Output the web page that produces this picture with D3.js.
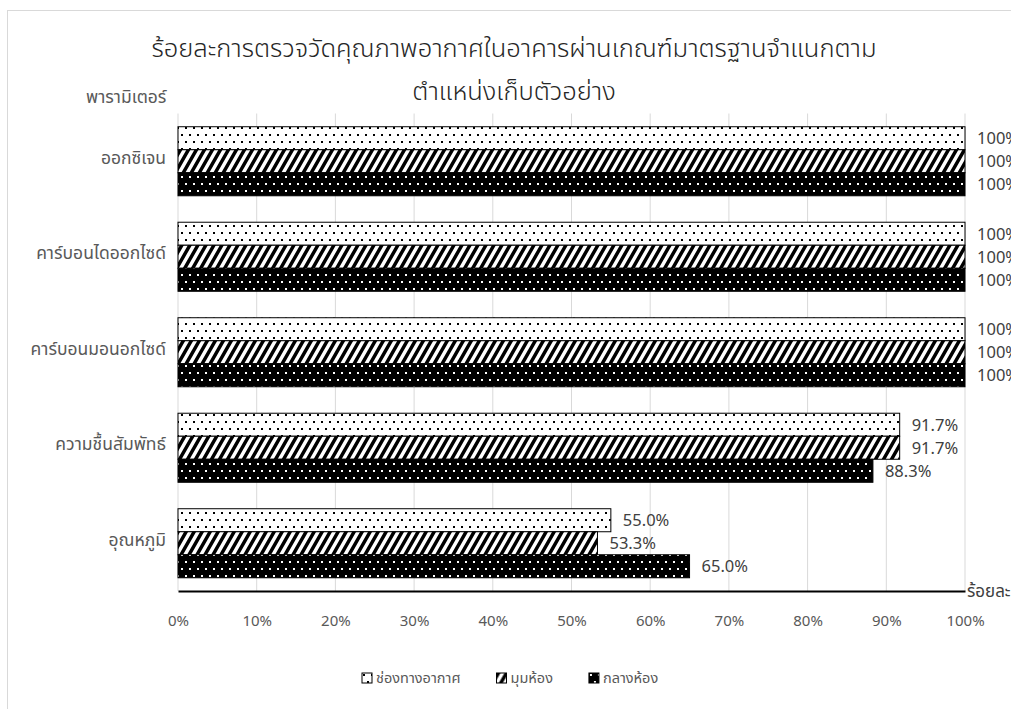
<!DOCTYPE html>
<html>
<head>
<meta charset="utf-8">
<script src="https://cdn.jsdelivr.net/npm/d3@7"></script>
<style>
  body { margin: 0; background: #fff; }
  svg text { font-family: "Noto Sans Thai", "Noto Sans Thai Looped", "Noto Sans", "DejaVu Sans", sans-serif; }
</style>
</head>
<body>
<div id="chart"></div>
<script>
// chart data
var categories = ['ออกซิเจน', 'คาร์บอนไดออกไซด์', 'คาร์บอนมอนอกไซด์', 'ความชื้นสัมพัทธ์', 'อุณหภูมิ'];
var seriesNames = ['ช่องทางอากาศ', 'มุมห้อง', 'กลางห้อง'];
var airDuct = [100, 100, 100, 91.7, 55.0];
var roomCorner = [100, 100, 100, 91.7, 53.3];
var roomCenter = [100, 100, 100, 88.3, 65.0];
var xTicks = [0, 10, 20, 30, 40, 50, 60, 70, 80, 90, 100];
var titleLines = ['ร้อยละการตรวจวัดคุณภาพอากาศในอาคารผ่านเกณฑ์มาตรฐานจำแนกตาม', 'ตำแหน่งเก็บตัวอย่าง'];

var seriesValues = [airDuct, roomCorner, roomCenter];
var patternIds = ['pDots', 'pStripes', 'pBlackDots'];

var width = 1011, height = 709;
var margin = {top: 113.5, left: 178, right: 1011 - 965, bottom: 709 - 591};

var svg = d3.select('#chart').append('svg')
    .attr('width', width)
    .attr('height', height);

// patterns
var defs = svg.append('defs');

var p1 = defs.append('pattern').attr('id', 'pDots')
    .attr('patternUnits', 'userSpaceOnUse')
    .attr('width', 8).attr('height', 14);
p1.append('rect').attr('width', 8).attr('height', 14).attr('fill', '#fff');
p1.append('rect').attr('x', 1).attr('y', 1).attr('width', 2).attr('height', 2).attr('fill', '#000');
p1.append('rect').attr('x', 5).attr('y', 8).attr('width', 2).attr('height', 2).attr('fill', '#000');

var p2 = defs.append('pattern').attr('id', 'pStripes')
    .attr('patternUnits', 'userSpaceOnUse')
    .attr('width', 8).attr('height', 14);
p2.append('rect').attr('width', 8).attr('height', 14).attr('fill', '#fff');
p2.append('path').attr('fill', '#000')
    .attr('d', 'M0,14 L4,14 L8,7 L8,0 Z M0,7 L4,0 L0,0 Z');

var p3 = defs.append('pattern').attr('id', 'pBlackDots')
    .attr('patternUnits', 'userSpaceOnUse')
    .attr('width', 8).attr('height', 14);
p3.append('rect').attr('width', 8).attr('height', 14).attr('fill', '#000');
p3.append('rect').attr('x', 1).attr('y', 1).attr('width', 2).attr('height', 2).attr('fill', '#fff');
p3.append('rect').attr('x', 5).attr('y', 8).attr('width', 2).attr('height', 2).attr('fill', '#fff');

// chart frame
svg.append('rect')
    .attr('x', 7.5).attr('y', 10.5)
    .attr('width', width).attr('height', height)
    .attr('fill', 'none').attr('stroke', '#d9d9d9');

// title
svg.selectAll('.title')
    .data(titleLines)
  .enter().append('text')
    .attr('class', 'title')
    .attr('x', 514)
    .attr('y', function(d, i) { return 57 + i * 43; })
    .attr('text-anchor', 'middle')
    .attr('fill', '#262626')
    .style('font-size', '25.5px')
    .style('font-weight', 300)
    .text(function(d) { return d; });

var x = d3.scaleLinear()
    .domain([0, 100])
    .range([margin.left, width - margin.right]);

var y = d3.scaleBand()
    .domain(categories)
    .range([margin.top, height - margin.bottom])
    .paddingInner(0.277)
    .paddingOuter(0.1385);

var ySub = d3.scaleBand()
    .domain(d3.range(seriesNames.length))
    .range([0, y.bandwidth()]);

// gridlines
svg.append('g')
    .selectAll('line')
    .data(xTicks)
  .enter().append('line')
    .attr('x1', function(d) { return x(d); })
    .attr('x2', function(d) { return x(d); })
    .attr('y1', margin.top)
    .attr('y2', height - margin.bottom)
    .attr('stroke', '#d9d9d9')
    .attr('stroke-width', 1);

// bars
var groups = svg.append('g').selectAll('g')
    .data(seriesNames)
  .enter().append('g');

groups.each(function(name, si) {
  d3.select(this).selectAll('rect')
      .data(seriesValues[si])
    .enter().append('rect')
      .attr('x', x(0))
      .attr('y', function(d, ci) { return y(categories[ci]) + ySub(si); })
      .attr('width', function(d) { return x(d) - x(0); })
      .attr('height', ySub.bandwidth())
      .attr('fill', 'url(#' + patternIds[si] + ')')
      .attr('stroke', '#000')
      .attr('stroke-width', 1);

  d3.select(this).selectAll('text')
      .data(seriesValues[si])
    .enter().append('text')
      .attr('x', function(d) { return x(d) + 12; })
      .attr('y', function(d, ci) { return y(categories[ci]) + ySub(si) + ySub.bandwidth() / 2; })
      .attr('dy', '0.35em')
      .attr('fill', '#404040')
      .style('font-size', '16.5px')
      .text(function(d) { return d === 100 ? '100%' : d.toFixed(1) + '%'; });
});

// x axis
var xAxis = d3.axisBottom(x)
    .tickValues(xTicks)
    .tickSize(0)
    .tickPadding(24)
    .tickFormat(function(d) { return d + '%'; });

var gx = svg.append('g')
    .attr('transform', 'translate(0,' + (height - margin.bottom) + ')')
    .call(xAxis);
gx.select('.domain').attr('stroke', '#000').attr('stroke-width', 2);
gx.selectAll('text')
    .attr('fill', '#595959')
    .style('font-size', '15px');

// y axis labels
var yAxis = d3.axisLeft(y).tickSize(0).tickPadding(12);
var gy = svg.append('g')
    .attr('transform', 'translate(' + margin.left + ',-3)')
    .call(yAxis);
gy.select('.domain').remove();
gy.selectAll('text')
    .attr('fill', '#595959')
    .style('font-size', '17.5px');

// axis titles
svg.append('text')
    .attr('x', 86)
    .attr('y', 103)
    .attr('fill', '#595959')
    .style('font-size', '17.5px')
    .text('พารามิเตอร์');

svg.append('text')
    .attr('x', 967)
    .attr('y', 597)
    .attr('fill', '#404040')
    .style('font-size', '17px')
    .text('ร้อยละ');

// legend
var legend = svg.append('g');
var lx = 362;
seriesNames.forEach(function(name, i) {
  var item = legend.append('g').attr('transform', 'translate(' + lx + ',673)');
  item.append('rect')
      .attr('width', 10).attr('height', 10)
      .attr('fill', 'url(#' + patternIds[i] + ')')
      .attr('stroke', '#000');
  var t = item.append('text')
      .attr('x', 14).attr('y', 5)
      .attr('dy', '0.35em')
      .attr('fill', '#595959')
      .style('font-size', '14.5px')
      .text(name);
  lx += 14 + t.node().getComputedTextLength() + 36;
});
</script>
</body>
</html>
